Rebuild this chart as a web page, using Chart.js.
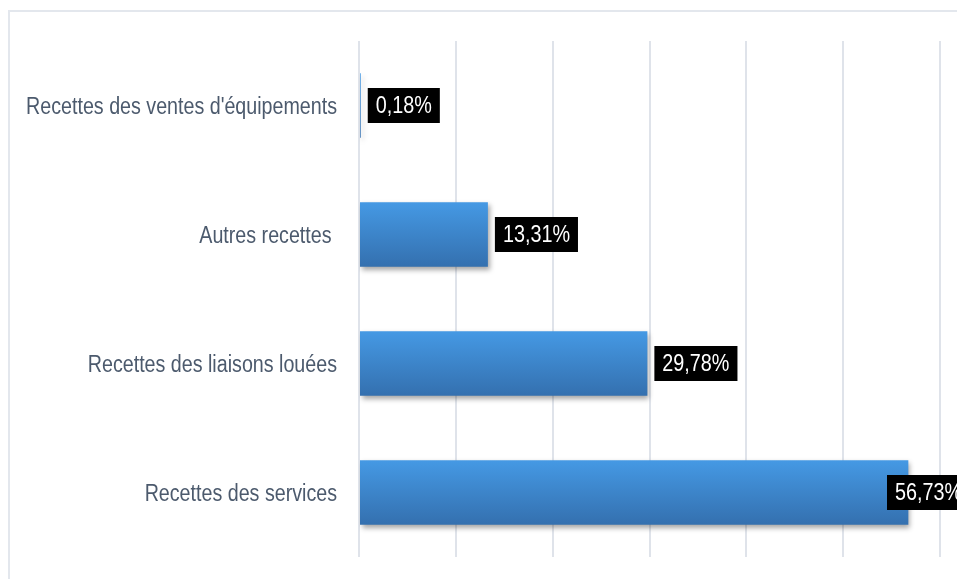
<!DOCTYPE html>
<html>
<head>
<meta charset="utf-8">
<script src="https://cdn.jsdelivr.net/npm/chart.js@4"></script>
<style>
html, body { margin: 0; padding: 0; background: #fff; overflow: hidden; }
#wrap { position: relative; width: 957px; height: 579px; overflow: hidden; }
#frame { position: absolute; left: 8px; top: 10px; width: 1000px; height: 700px; border: 2px solid #e3e7ed; }
canvas { position: absolute; left: 0; top: 0; }
</style>
</head>
<body>
<div id="wrap">
    <div id="frame"></div>
    <canvas id="myChart" width="957" height="579"></canvas>
</div>
<script>
const categories = ["Recettes des ventes d'équipements", "Autres recettes ", "Recettes des liaisons louées", "Recettes des services"];
const shares = [0.18, 13.31, 29.78, 56.73];
const shareLabels = ["0,18%", "13,31%", "29,78%", "56,73%"];
const axisTicks = [0, 10, 20, 30, 40, 50, 60];

const labelFont = '23px "Liberation Sans", Arial, sans-serif';

function barGradient(context) {
    const chart = context.chart;
    if (!chart.chartArea || context.type !== 'data') {
        return '#3d86d0';
    }
    const y = chart.scales.y.getPixelForValue(context.dataIndex);
    const half = chart.scales.y.height / categories.length / 4;
    const gradient = chart.ctx.createLinearGradient(0, y - half, 0, y + half);
    gradient.addColorStop(0, '#4599e4');
    gradient.addColorStop(1, '#3470af');
    return gradient;
}

// condensed text, the source font is narrower than anything installed
function drawNarrowText(ctx, text, x, y, align, squeeze) {
    ctx.save();
    ctx.translate(x, y);
    ctx.scale(squeeze, 1);
    ctx.textAlign = align;
    ctx.fillText(text, 0, 0);
    ctx.restore();
}

// shadow under the bars, category labels and black value boxes
const barDecor = {
    id: 'barDecor',
    beforeDatasetsDraw(chart) {
        const ctx = chart.ctx;
        ctx.save();
        ctx.shadowColor = 'rgba(0, 0, 0, 0.35)';
        ctx.shadowBlur = 5;
        ctx.shadowOffsetX = 2;
        ctx.shadowOffsetY = 3;
    },
    afterDatasetsDraw(chart) {
        const ctx = chart.ctx;
        ctx.restore();

        const yScale = chart.scales.y;
        ctx.save();
        ctx.font = labelFont;
        ctx.textBaseline = 'middle';

        ctx.fillStyle = '#4c5a6d';
        categories.forEach((cat, i) => {
            const y = yScale.getPixelForValue(i);
            drawNarrowText(ctx, cat, yScale.right - 22, y + 2, 'right', 0.855);
        });

        const meta = chart.getDatasetMeta(0);
        meta.data.forEach((bar, i) => {
            const text = shareLabels[i];
            const w = ctx.measureText(text).width * 0.86 + 16;
            const h = 35;
            const x = Math.min(bar.x + 7, chart.chartArea.right - 53);
            ctx.fillStyle = '#000';
            ctx.fillRect(x, bar.y - h / 2, w, h);
            ctx.fillStyle = '#fff';
            drawNarrowText(ctx, text, x + 8, bar.y + 1, 'left', 0.86);
        });
        ctx.restore();
    }
};

const ctx = document.getElementById('myChart').getContext('2d');
const chart = new Chart(ctx, {
    type: 'bar',
    data: {
        labels: categories,
        datasets: [{
            data: shares,
            backgroundColor: barGradient,
            borderWidth: 0,
            barPercentage: 0.5,
            categoryPercentage: 1
        }]
    },
    options: {
        indexAxis: 'y',
        responsive: false,
        animation: false,
        layout: {
            padding: { top: 41, bottom: 22, right: 17, left: 0 }
        },
        plugins: {
            legend: { display: false },
            tooltip: { enabled: false }
        },
        scales: {
            x: {
                type: 'linear',
                min: 0,
                max: 60,
                afterBuildTicks: scale => {
                    scale.ticks = axisTicks.map(v => ({ value: v }));
                },
                ticks: { display: false },
                grid: { color: '#dfe3ea', lineWidth: 2, drawTicks: false },
                border: { display: false }
            },
            y: {
                afterFit: scale => {
                    scale.width = 359;
                },
                ticks: { display: false },
                grid: { display: false, drawTicks: false },
                border: { display: false }
            }
        }
    },
    plugins: [barDecor]
});
</script>
</body>
</html>
